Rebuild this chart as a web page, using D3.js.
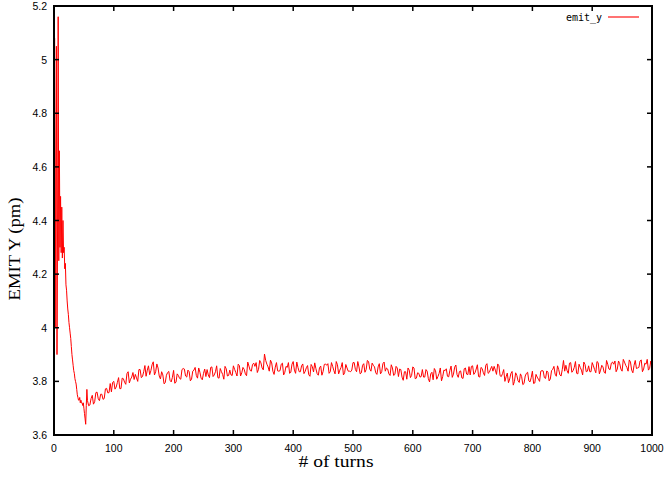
<!DOCTYPE html>
<html><head><meta charset="utf-8">
<script src="https://cdn.jsdelivr.net/npm/d3@7"></script>
<style>html,body{margin:0;padding:0;background:#fff;}svg{display:block;}</style>
</head><body>
<svg id="c" width="668" height="481"></svg>
<script>
// ---- data ----
const xTicks = [0,100,200,300,400,500,600,700,800,900,1000];
const yTicks = [3.6,3.8,4.0,4.2,4.4,4.6,4.8,5.0,5.2];
const yTickLabels = ["3.6","3.8","4","4.2","4.4","4.6","4.8","5","5.2"];
const seriesName = "emit_y";
// turns 0..55, one value per turn
const earlyEmit = [4.50,5.08,4.00,4.60,5.05,3.90,4.40,5.16,4.25,4.66,
  4.30,4.49,4.28,4.45,4.26,4.40,4.28,4.30,4.22,4.24,
  4.16,4.14,4.10,4.07,4.05,4.02,4.00,3.98,3.96,3.93,
  3.90,3.88,3.86,3.84,3.83,3.81,3.80,3.79,3.77,3.75,
  3.74,3.73,3.73,3.74,3.72,3.73,3.72,3.72,3.71,3.72,
  3.70,3.68,3.66,3.64,3.71,3.77];
// turns 56, 60, ..., 1000
const laterStart = 56, laterStep = 4;
const laterEmit = [
  3.728,3.712,3.748,3.724,3.760,3.728,3.752,3.736,3.774,3.758,
  3.761,3.800,3.779,3.814,3.773,3.810,3.789,3.836,3.808,3.833,
  3.826,3.800,3.844,3.818,3.859,3.842,3.825,3.862,3.824,3.865,
  3.820,3.836,3.791,3.823,3.837,3.798,3.841,3.797,3.822,3.808,
  3.848,3.820,3.842,3.802,3.838,3.852,3.812,3.834,3.806,3.846,
  3.844,3.814,3.854,3.824,3.858,3.812,3.836,3.808,3.847,3.822,
  3.824,3.858,3.833,3.864,3.820,3.852,3.828,3.872,3.841,3.863,
  3.856,3.833,3.878,3.850,3.902,3.864,3.838,3.869,3.826,3.870,
  3.838,3.864,3.824,3.856,3.870,3.834,3.874,3.830,3.852,3.836,
  3.865,3.837,3.859,3.819,3.855,3.869,3.829,3.851,3.823,3.863,
  3.860,3.830,3.870,3.840,3.874,3.828,3.852,3.824,3.863,3.838,
  3.836,3.870,3.844,3.874,3.828,3.860,3.834,3.878,3.846,3.868,
  3.854,3.826,3.866,3.836,3.872,3.850,3.828,3.862,3.822,3.856,
  3.818,3.844,3.804,3.836,3.850,3.814,3.854,3.810,3.832,3.816,
  3.844,3.816,3.838,3.798,3.834,3.848,3.808,3.830,3.802,3.842,
  3.847,3.817,3.857,3.827,3.861,3.815,3.839,3.811,3.850,3.825,
  3.824,3.858,3.832,3.862,3.816,3.848,3.822,3.866,3.834,3.856,
  3.856,3.826,3.858,3.818,3.844,3.817,3.795,3.829,3.786,3.832,
  3.802,3.828,3.788,3.820,3.834,3.798,3.838,3.794,3.816,3.800,
  3.840,3.814,3.839,3.802,3.840,3.856,3.819,3.844,3.820,3.878,
  3.860,3.830,3.870,3.840,3.874,3.828,3.852,3.824,3.863,3.838,
  3.836,3.870,3.844,3.874,3.828,3.860,3.834,3.878,3.846,3.868,
  3.864,3.836,3.876,3.846,3.882,3.860,3.838,3.872,3.832,3.878,
  3.850,3.876,3.836,3.868,3.882,3.848,3.866];
// turns 58, 62, ..., 998
const midStart = 58;
const midEmit = [
  3.709,3.736,3.715,3.758,3.735,3.752,3.733,3.772,3.757,3.792,
  3.796,3.771,3.796,3.773,3.812,3.797,3.829,3.794,3.816,3.807,
  3.813,3.844,3.814,3.836,3.819,3.858,3.840,3.873,3.836,3.850,
  3.809,3.824,3.795,3.833,3.804,3.815,3.793,3.828,3.811,3.844,
  3.846,3.816,3.836,3.808,3.842,3.822,3.850,3.812,3.830,3.818,
  3.824,3.852,3.818,3.836,3.814,3.848,3.826,3.856,3.820,3.842,
  3.822,3.845,3.820,3.859,3.832,3.845,3.821,3.857,3.838,3.868,
  3.870,3.845,3.869,3.843,3.878,3.854,3.879,3.838,3.853,3.839,
  3.840,3.868,3.834,3.852,3.830,3.864,3.842,3.872,3.836,3.858,
  3.829,3.851,3.825,3.863,3.835,3.847,3.823,3.857,3.837,3.865,
  3.866,3.836,3.856,3.828,3.862,3.842,3.870,3.832,3.850,3.838,
  3.842,3.870,3.836,3.854,3.832,3.866,3.844,3.874,3.838,3.860,
  3.832,3.854,3.828,3.866,3.838,3.846,3.822,3.850,3.826,3.850,
  3.846,3.816,3.836,3.808,3.842,3.822,3.850,3.812,3.830,3.818,
  3.816,3.844,3.810,3.828,3.806,3.840,3.818,3.850,3.818,3.840,
  3.819,3.841,3.815,3.853,3.825,3.837,3.813,3.847,3.827,3.855,
  3.856,3.826,3.846,3.818,3.852,3.832,3.860,3.830,3.846,3.838,
  3.842,3.865,3.821,3.829,3.800,3.831,3.809,3.837,3.800,3.822,
  3.796,3.818,3.792,3.830,3.802,3.814,3.792,3.826,3.808,3.838,
  3.839,3.811,3.834,3.809,3.845,3.827,3.858,3.824,3.845,3.838,
  3.840,3.868,3.834,3.852,3.830,3.864,3.842,3.872,3.836,3.858,
  3.836,3.858,3.832,3.870,3.842,3.854,3.830,3.864,3.844,3.872,
  3.876,3.846,3.866,3.838,3.872,3.852,3.880,3.842,3.860,3.848,
  3.852,3.880,3.846,3.864,3.842,3.876];

const points = earlyEmit.map((v,i)=>({t:i, v:v}))
  .concat(laterEmit.map((v,i)=>({t:laterStart+i*laterStep, v:v})))
  .concat(midEmit.map((v,i)=>({t:midStart+i*laterStep, v:v})))
  .sort((a,b)=>a.t-b.t);

// ---- layout ----
const L=54, R=652, T=6, B=435;
const svg = d3.select("#c");
const x = d3.scaleLinear().domain([0,1000]).range([L,R]);
const y = d3.scaleLinear().domain([3.6,5.2]).range([B,T]);

svg.append("clipPath").attr("id","clip").append("rect")
  .attr("x",L).attr("y",T).attr("width",R-L).attr("height",B-T);

// data line
svg.append("path").datum(points)
  .attr("clip-path","url(#clip)")
  .attr("fill","none").attr("stroke","#ff0000").attr("stroke-width",1)
  .attr("d", d3.line().x(d=>x(d.t)).y(d=>y(d.v)));

// axes (gnuplot style, inward ticks, mirrored)
const tickFont = "'Liberation Sans', Arial, sans-serif";
const ax = svg.append("g").attr("font-family",tickFont).attr("font-size","10.5px").attr("fill","#000");
const tlen = 5;
xTicks.forEach(t=>{
  ax.append("line").attr("x1",x(t)).attr("x2",x(t)).attr("y1",B).attr("y2",B-tlen).attr("stroke","#000").attr("stroke-width",1.5);
  ax.append("line").attr("x1",x(t)).attr("x2",x(t)).attr("y1",T).attr("y2",T+tlen).attr("stroke","#000").attr("stroke-width",1.5);
  ax.append("text").attr("x",x(t)).attr("y",452).attr("text-anchor","middle").text(String(t));
});
yTicks.forEach((t,i)=>{
  ax.append("line").attr("x1",L).attr("x2",L+tlen).attr("y1",y(t)).attr("y2",y(t)).attr("stroke","#000").attr("stroke-width",1.5);
  ax.append("line").attr("x1",R).attr("x2",R-tlen).attr("y1",y(t)).attr("y2",y(t)).attr("stroke","#000").attr("stroke-width",1.5);
  ax.append("text").attr("x",47).attr("y",y(t)+4).attr("text-anchor","end").text(yTickLabels[i]);
});
svg.append("rect").attr("x",L).attr("y",T).attr("width",R-L).attr("height",B-T)
  .attr("fill","none").attr("stroke","#000").attr("stroke-width",2);

// axis titles
svg.append("text").attr("x",336).attr("y",467).attr("text-anchor","middle")
  .attr("font-family","'Liberation Serif','Times New Roman',serif").attr("font-size","16px")
  .attr("textLength",75).attr("lengthAdjust","spacingAndGlyphs").text("# of turns");
svg.append("text").attr("transform","translate(20,249) rotate(-90)").attr("text-anchor","middle")
  .attr("font-family","'Liberation Serif','Times New Roman',serif").attr("font-size","17px")
  .attr("textLength",103).attr("lengthAdjust","spacingAndGlyphs").text("EMIT Y (pm)");

// legend
svg.append("text").attr("x",602).attr("y",21).attr("text-anchor","end")
  .attr("font-family","'DejaVu Sans Mono', monospace").attr("font-size","10px").text(seriesName);
svg.append("line").attr("x1",608).attr("x2",639).attr("y1",17).attr("y2",17)
  .attr("stroke","#ff0000").attr("stroke-width",1.1);
</script>
</body></html>
